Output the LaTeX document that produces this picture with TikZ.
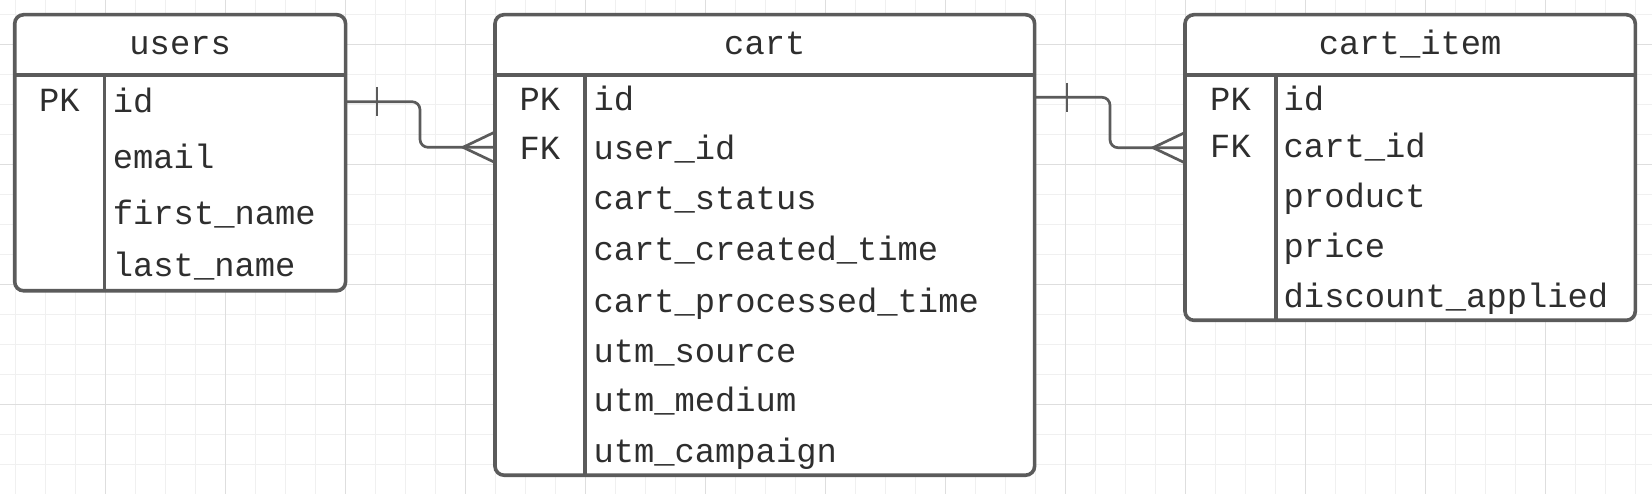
\documentclass[tikz,border=0pt]{standalone}
\usepackage{fontspec}
\setmonofont{Liberation Mono}
\definecolor{edgecol}{HTML}{5B5B5B}
\definecolor{txtcol}{HTML}{2E2E2E}
\definecolor{gridminor}{HTML}{F0F0F0}
\definecolor{gridmajor}{HTML}{DEDEDE}
\begin{document}
\begin{tikzpicture}[x=1pt,y=-1pt,
  tbl/.style={draw=edgecol, line width=3.6pt, rounded corners=9pt, fill=white, inner sep=0pt, outer sep=0pt, anchor=north west},
  divline/.style={draw=edgecol, line width=3.6pt},
  conn/.style={draw=edgecol, line width=2.7pt},
  fld/.style={text=txtcol, font=\ttfamily\fontsize{33.8}{40}\selectfont, inner sep=0pt, anchor=base west},
  keyt/.style={text=txtcol, font=\ttfamily\fontsize{33.8}{40}\selectfont, inner sep=0pt, anchor=base},
  ttl/.style={text=txtcol, font=\ttfamily\fontsize{33.8}{40}\selectfont, inner sep=0pt, anchor=base}
]
\useasboundingbox (0,0) rectangle (1652,494);
\fill[white] (0,0) rectangle (1652,494);
% grid
\foreach \k in {0,...,54} {\draw[gridminor, line width=1pt] (15.3+30*\k,0) -- (15.3+30*\k,494);}
\foreach \k in {0,...,16} {\draw[gridminor, line width=1pt] (0,14.3+30*\k) -- (1652,14.3+30*\k);}
\foreach \k in {0,...,13} {\draw[gridmajor, line width=1pt] (105.3+120*\k,0) -- (105.3+120*\k,494);}
\foreach \k in {0,...,3} {\draw[gridmajor, line width=1pt] (0,44.3+120*\k) -- (1652,44.3+120*\k);}

% users table
\node[tbl, minimum width=330.9pt, minimum height=276.1pt] (users) at (14.7,14.7) {};
\draw[divline] (users.west |- 0,74.8) -- (users.east |- 0,74.8);
\draw[divline] (104.3,74.8) -- (104.3,0 |- users.south);
\node[ttl] (usersT) at (180.15,55) {users};
\node[keyt] (usersPK) at (59.5,112) {PK};
\node[fld] (usersF1) at (112.7,112.5) {id};
\node[fld] (usersF2) at (112.7,169) {email};
\node[fld] (usersF3) at (112.7,225) {first\_name};
\node[fld] (usersF4) at (112.7,277) {last\_name};

% cart table
\node[tbl, minimum width=539.6pt, minimum height=460.5pt] (cart) at (495,14.7) {};
\draw[divline] (cart.west |- 0,74.8) -- (cart.east |- 0,74.8);
\draw[divline] (584.7,74.8) -- (584.7,0 |- cart.south);
\node[ttl] (cartT) at (764.8,55) {cart};
\node[keyt] (cartPK) at (539.9,111) {PK};
\node[keyt] (cartFK) at (539.9,159.4) {FK};
\node[fld] (cartF1) at (593.3,111) {id};
\node[fld] (cartF2) at (593.3,159.4) {user\_id};
\node[fld] (cartF3) at (593.3,209.5) {cart\_status};
\node[fld] (cartF4) at (593.3,260.2) {cart\_created\_time};
\node[fld] (cartF5) at (593.3,312.5) {cart\_processed\_time};
\node[fld] (cartF6) at (593.3,362) {utm\_source};
\node[fld] (cartF7) at (593.3,411.4) {utm\_medium};
\node[fld] (cartF8) at (593.3,462.8) {utm\_campaign};

% cart_item table
\node[tbl, minimum width=450.3pt, minimum height=305.6pt] (item) at (1185,14.7) {};
\draw[divline] (item.west |- 0,74.8) -- (item.east |- 0,74.8);
\draw[divline] (1276,74.8) -- (1276,0 |- item.south);
\node[ttl] (itemT) at (1410.15,55) {cart\_item};
\node[keyt] (itemPK) at (1230.5,111) {PK};
\node[keyt] (itemFK) at (1230.5,158) {FK};
\node[fld] (itemF1) at (1283.5,111) {id};
\node[fld] (itemF2) at (1283.5,158) {cart\_id};
\node[fld] (itemF3) at (1283.5,208) {product};
\node[fld] (itemF4) at (1283.5,258) {price};
\node[fld] (itemF5) at (1283.5,308) {discount\_applied};

% connector users -> cart
\draw[conn, rounded corners=8pt] (users.east |- 0,101.7) -- (420,101.7) -- (420,147.3) -- (cart.west |- 0,147.3);
\draw[conn] (377,87) -- (377,116.5);
\draw[conn] (cart.west |- 0,132) -- (463,147.3) -- (cart.west |- 0,162.5);

% connector cart -> cart_item
\draw[conn, rounded corners=8pt] (cart.east |- 0,97.3) -- (1110,97.3) -- (1110,147.7) -- (item.west |- 0,147.7);
\draw[conn] (1067,83) -- (1067,112.5);
\draw[conn] (item.west |- 0,132.5) -- (1153,147.7) -- (item.west |- 0,162.9);
\end{tikzpicture}
\end{document}
